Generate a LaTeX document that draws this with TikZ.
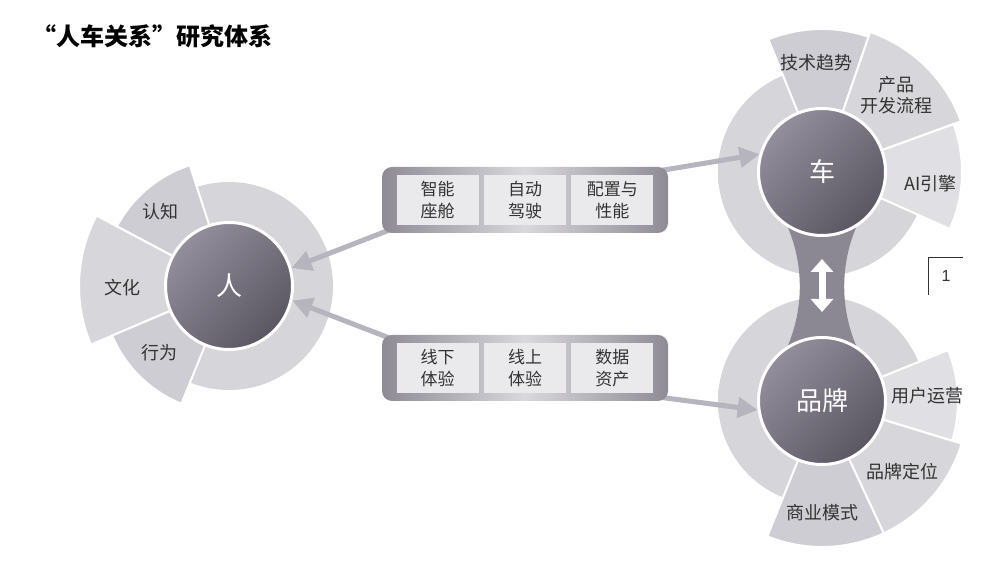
\documentclass[tikz,border=0pt]{standalone}
\usepackage{fontspec}
\setmainfont{Noto Sans CJK SC}
\newfontfamily\numfont{Liberation Sans}
\usepackage{tikz}
\usetikzlibrary{positioning, arrows.meta, calc}
\usepackage{xcolor}

\definecolor{hublight}{HTML}{928E9B}
\definecolor{hubdark}{HTML}{5A5662}
\definecolor{ringin}{HTML}{D6D5DA}
\definecolor{ringout}{HTML}{E9E8EC}
\definecolor{partdark}{HTML}{CFCDD4}
\definecolor{partmid}{HTML}{D7D6DB}
\definecolor{partlight}{HTML}{E0DFE3}
\definecolor{textgray}{HTML}{333333}
\definecolor{flowgray}{HTML}{B6B4BC}
\definecolor{neckgray}{HTML}{8C8893}
\definecolor{panelside}{HTML}{8E8B95}
\definecolor{panelmid}{HTML}{D9D8DC}
\definecolor{cellgray}{HTML}{EAE9EC}

\pgfdeclareradialshading{ringshade}{\pgfpoint{0bp}{0bp}}{color(0bp)=(ringin); color(31bp)=(ringin); color(50bp)=(ringout)}

\tikzset{
    hub/.style={circle, draw=white, line width=3pt, minimum size=127pt, inner sep=0pt,
        text=white, font=\fontsize{26}{28}\selectfont,
        top color=hublight, bottom color=hubdark, shading angle=45},
    ring/.style={shading=ringshade},
    part/.style={draw=white, line width=2pt},
    partlabel/.style={text=textgray, font=\fontsize{18}{21}\selectfont, align=center, inner sep=0pt},
    flow/.style={draw=flowgray, line width=5pt, -{Triangle[length=20pt,width=20pt]}},
    neck/.style={fill=neckgray},
    swap/.style={draw=white, line width=7pt, {Triangle[length=13pt,width=22pt]}-{Triangle[length=13pt,width=22pt]}},
    panel/.style={rounded corners=10pt, minimum width=286pt, minimum height=66pt,
        left color=panelside, right color=panelside, middle color=panelmid},
    cell/.style={fill=cellgray, minimum width=82pt, minimum height=50pt, inner sep=0pt,
        align=center, text=textgray, font=\fontsize{17}{22}\selectfont},
}

\begin{document}
\begin{tikzpicture}[x=1pt, y=1pt]
    \useasboundingbox (0,0) rectangle (986,564);

    % Title
    \node[anchor=west, inner sep=0pt, text=black, font=\fontsize{24}{26}\selectfont\bfseries] (title) at (32,528) {“人车关系”研究体系};

    % Centres
    \coordinate (renc) at (229,278);
    \coordinate (chec) at (822,392);
    \coordinate (brandc) at (822,163);

    % Rings
    \path[ring] (renc) circle[radius=104];
    \path[ring] (chec) circle[radius=104];
    \path[ring] (brandc) circle[radius=104];

    % Sectors round the person
    \foreach \a/\b/\r/\c in {108/152/127/partdark, 152/203/150/partmid, 203/248/127/partdark}
        \path[part, fill=\c] ($(renc)+(\a:60)$) arc[start angle=\a, end angle=\b, radius=60]
            -- ($(renc)+(\b:\r)$) arc[start angle=\b, end angle=\a, radius=\r] -- cycle;

    % Sectors round the car
    \foreach \a/\b/\r/\c in {71/112/143/partdark, 20/71/148/partmid, -24/20/140/partlight}
        \path[part, fill=\c] ($(chec)+(\a:60)$) arc[start angle=\a, end angle=\b, radius=60]
            -- ($(chec)+(\b:\r)$) arc[start angle=\b, end angle=\a, radius=\r] -- cycle;

    % Sectors round the brand
    \foreach \a/\b/\r/\c in {-17/22/136/partlight, -65/-17/146/partmid, -112/-65/146/partdark}
        \path[part, fill=\c] ($(brandc)+(\a:60)$) arc[start angle=\a, end angle=\b, radius=60]
            -- ($(brandc)+(\b:\r)$) arc[start angle=\b, end angle=\a, radius=\r] -- cycle;

    % Neck between car and brand
    \path[neck] ($(chec)+(-123:64)$) .. controls (804,300) and (804,255) .. ($(brandc)+(123:64)$)
        -- ($(brandc)+(57:64)$) .. controls (840,255) and (840,300) .. ($(chec)+(-57:64)$) -- cycle;

    % Hubs
    \node[hub] (ren) at (renc) {人};
    \node[hub] (che) at (chec) {车};
    \node[hub] (brand) at (brandc) {品牌};

    % Sector labels
    \node[partlabel] (renzhi) at ($(renc)+(133:101)$) {认知};
    \node[partlabel] (wenhua) at ($(renc)+(181:107)$) {文化};
    \node[partlabel] (xingwei) at ($(renc)+(224:96)$) {行为};
    \node[partlabel] (jishu) at ($(chec)+(93:109)$) {技术趋势};
    \node[partlabel] (kaifa) at ($(chec)+(46:107)$) {产品\\开发流程};
    \node[partlabel] (aiyq) at ($(chec)+(-6:109)$) {AI引擎};
    \node[partlabel] (yunying) at ($(brandc)+(3:106)$) {用户运营};
    \node[partlabel] (dingwei) at ($(brandc)+(-41.6:107)$) {品牌定位};
    \node[partlabel] (moshi) at ($(brandc)+(-90:112)$) {商业模式};

    % Panels (placed before the flows, drawn over them below)
    \path (525,364) coordinate (carpos) (525,196) coordinate (datapos);

    % Flows
    \draw[flow] ($(carpos)+(-133,-29)$) -- (ren.16);
    \draw[flow] ($(carpos)+(133,29)$) -- (che.164);
    \draw[flow] ($(datapos)+(-133,29)$) -- (ren.-13);
    \draw[flow] ($(datapos)+(133,-29)$) -- (brand.188);

    % Car side panel
    \node[panel] (carbox) at (carpos) {};
    \node[cell] (drive) at (carbox.center) {自动\\驾驶};
    \node[cell, left=5pt of drive] (cabin) {智能\\座舱};
    \node[cell, right=5pt of drive] (config) {配置与\\性能};

    % Brand side panel
    \node[panel] (databox) at (datapos) {};
    \node[cell] (online) at (databox.center) {线上\\体验};
    \node[cell, left=5pt of online] (offline) {线下\\体验};
    \node[cell, right=5pt of online] (assets) {数据\\资产};

    % Car <-> brand
    \draw[swap, shorten <=22pt, shorten >=24pt] (che) -- (brand);

    % Page number
    \node[minimum width=34pt, minimum height=37pt, inner sep=0pt, text=textgray, font=\numfont\fontsize{16}{18}\selectfont] (pagenum) at (946,287.5) {1};
    \draw[textgray, line width=1pt] (pagenum.south west) |- (pagenum.north east);
\end{tikzpicture}
\end{document}
